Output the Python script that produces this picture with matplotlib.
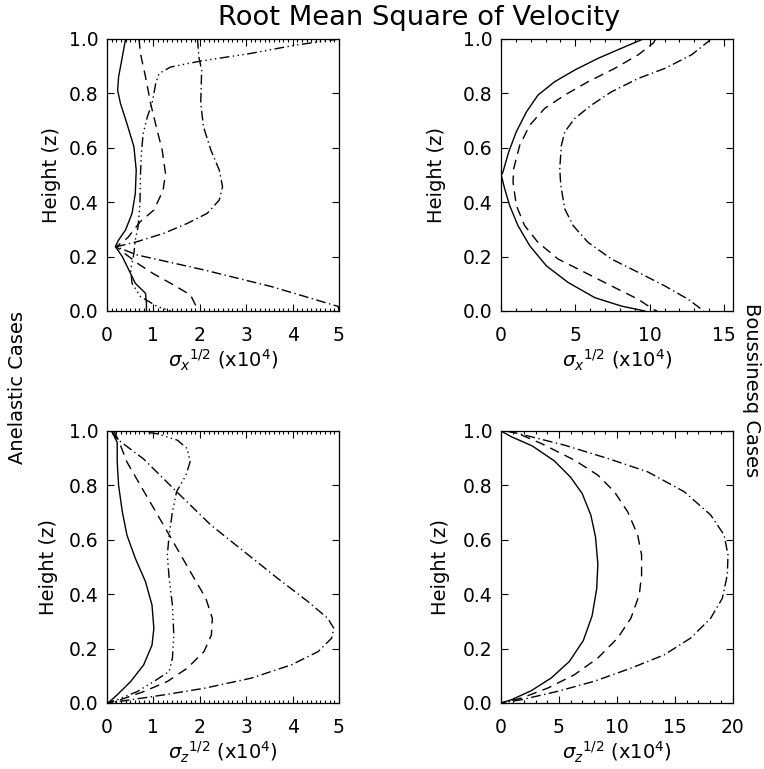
import matplotlib
matplotlib.use("Agg")
import matplotlib.pyplot as plt
from matplotlib.ticker import MultipleLocator

plt.rcParams['font.family'] = ['DejaVu Sans']
plt.rcParams['mathtext.fontset'] = 'dejavusans'
plt.rcParams['font.size'] = 14

# ---- anelastic, sigma_x ----
ax_solid_s = [0.40, 0.33, 0.25, 0.23, 0.29, 0.43, 0.58, 0.63, 0.61, 0.54, 0.40, 0.25, 0.18, 0.33, 0.47, 0.61, 0.83, 0.85, 0.85]
ax_solid_z = [1.0, 0.934, 0.861, 0.811, 0.763, 0.689, 0.604, 0.518, 0.432, 0.359, 0.298, 0.261, 0.237, 0.200, 0.151, 0.102, 0.065, 0.029, 0.0]
ax_dash_s = [0.69, 0.72, 0.83, 0.94, 1.08, 1.19, 1.26, 1.21, 1.01, 0.72, 0.45, 0.20, 0.65, 1.01, 1.37, 1.80, 1.97]
ax_dash_z = [1.0, 0.947, 0.861, 0.763, 0.665, 0.591, 0.506, 0.444, 0.371, 0.329, 0.270, 0.236, 0.176, 0.136, 0.102, 0.059, 0.0]
ax_dd_s = [1.95, 1.98, 2.04, 2.02, 2.08, 2.24, 2.42, 2.49, 2.42, 2.16, 1.73, 1.23, 0.65, 0.20, 0.65, 2.09, 3.54, 4.98, 5.0]
ax_dd_z = [1.0, 0.934, 0.885, 0.763, 0.677, 0.591, 0.518, 0.457, 0.408, 0.359, 0.322, 0.286, 0.255, 0.236, 0.206, 0.151, 0.090, 0.017, 0.0]
ax_d3_s = [5.0, 4.04, 3.10, 2.02, 1.37, 1.12, 1.05, 0.97, 0.87, 0.78, 0.74, 0.72, 0.71, 0.67, 0.61, 0.58, 0.51, 0.54, 0.72, 1.08, 1.37]
ax_d3_z = [1.0, 0.977, 0.947, 0.919, 0.897, 0.873, 0.836, 0.763, 0.714, 0.653, 0.579, 0.494, 0.396, 0.310, 0.261, 0.212, 0.151, 0.102, 0.053, 0.017, 0.0]

# ---- boussinesq, sigma_x ----
bx_solid_s = [9.56, 8.1, 6.53, 4.96, 3.61, 2.49, 1.71, 1.03, 0.52, 0.13, 0.02, 0.25, 0.58, 1.14, 1.93, 3.05, 4.51, 6.31, 8.1, 9.67]
bx_solid_z = [1.0, 0.966, 0.929, 0.886, 0.843, 0.794, 0.732, 0.659, 0.585, 0.511, 0.499, 0.449, 0.388, 0.314, 0.240, 0.166, 0.105, 0.049, 0.018, 0.0]
bx_dash_s = [10.4, 10.24, 9.23, 7.65, 5.86, 4.29, 2.94, 1.93, 1.26, 0.85, 0.81, 1.03, 1.59, 2.49, 3.84, 5.63, 7.43, 9.23, 10.24, 10.5]
bx_dash_z = [1.0, 0.985, 0.942, 0.892, 0.843, 0.794, 0.745, 0.683, 0.609, 0.523, 0.474, 0.388, 0.314, 0.252, 0.191, 0.142, 0.092, 0.043, 0.006, 0.0]
bx_dd_s = [14.1, 13.94, 12.82, 11.02, 9.23, 7.43, 6.08, 4.96, 4.29, 4.06, 3.95, 4.02, 4.29, 4.85, 5.86, 7.43, 9.23, 11.02, 12.59, 13.49, 13.6]
bx_dd_z = [1.0, 0.991, 0.942, 0.892, 0.855, 0.806, 0.757, 0.708, 0.659, 0.609, 0.523, 0.462, 0.375, 0.314, 0.252, 0.191, 0.142, 0.092, 0.043, 0.006, 0.0]

# ---- anelastic, sigma_z ----
az_solid_s = [0.10, 0.22, 0.22, 0.25, 0.33, 0.43, 0.61, 0.83, 0.97, 1.01, 0.97, 0.79, 0.51, 0.22, 0.04, 0.0]
az_solid_z = [1.0, 0.958, 0.886, 0.800, 0.703, 0.617, 0.532, 0.446, 0.360, 0.274, 0.213, 0.140, 0.079, 0.030, 0.003, 0.0]
az_dash_s = [0.15, 0.25, 0.43, 0.72, 1.01, 1.30, 1.59, 1.88, 2.13, 2.27, 2.25, 2.09, 1.73, 1.30, 0.79, 0.29, 0.0]
az_dash_z = [1.0, 0.965, 0.886, 0.800, 0.715, 0.630, 0.544, 0.458, 0.385, 0.311, 0.250, 0.189, 0.128, 0.079, 0.042, 0.012, 0.0]
az_dd_s = [0.10, 0.22, 0.79, 1.50, 2.24, 2.96, 3.68, 4.33, 4.76, 4.89, 4.84, 4.55, 3.97, 3.10, 2.09, 1.23, 0.36, 0.0]
az_dd_z = [1.0, 0.970, 0.897, 0.777, 0.654, 0.556, 0.458, 0.373, 0.311, 0.274, 0.238, 0.189, 0.140, 0.091, 0.054, 0.030, 0.008, 0.0]
az_d3_s = [0.30, 0.65, 1.08, 1.52, 1.73, 1.79, 1.70, 1.50, 1.41, 1.34, 1.30, 1.34, 1.41, 1.44, 1.41, 1.34, 1.01, 0.65, 0.22, 0.0]
az_d3_z = [1.0, 1.0, 0.990, 0.966, 0.935, 0.886, 0.837, 0.777, 0.703, 0.617, 0.544, 0.458, 0.360, 0.250, 0.165, 0.116, 0.079, 0.042, 0.012, 0.0]

# ---- boussinesq, sigma_z ----
bz_solid_s = [0.0, 0.89, 2.7, 4.6, 6.0, 7.0, 7.75, 8.15, 8.35, 8.25, 7.85, 7.1, 5.9, 4.33, 2.6, 0.9, 0.0]
bz_solid_z = [1.0, 0.979, 0.945, 0.890, 0.830, 0.770, 0.690, 0.610, 0.510, 0.420, 0.320, 0.230, 0.153, 0.092, 0.045, 0.012, 0.0]
bz_dash_s = [0.4, 1.46, 3.47, 6.33, 8.34, 9.77, 10.92, 11.78, 12.12, 12.12, 11.92, 11.2, 10.06, 8.34, 6.33, 4.04, 1.75, 0.0]
bz_dash_z = [1.0, 0.991, 0.954, 0.893, 0.838, 0.777, 0.703, 0.618, 0.544, 0.471, 0.398, 0.312, 0.239, 0.165, 0.104, 0.055, 0.018, 0.0]
bz_dd_s = [0.6, 2.03, 5.47, 9.2, 12.64, 15.79, 18.08, 19.23, 19.57, 19.51, 19.08, 18.08, 16.36, 14.07, 11.2, 8.05, 4.9, 1.75, 0.0]
bz_dd_z = [1.0, 0.985, 0.948, 0.899, 0.850, 0.777, 0.691, 0.618, 0.544, 0.471, 0.385, 0.312, 0.239, 0.177, 0.128, 0.080, 0.043, 0.012, 0.0]

# IDL-like line styles
SOLID = '-'
DASH = (0, (7, 4.5))
DASHDOT = (0, (7, 2.5, 1, 2.5))
DASH3DOT = (0, (7, 2.5, 1, 2.5, 1, 2.5, 1, 2.5))

fig = plt.figure(figsize=(7.64, 7.69), dpi=100)
W, H = 764.0, 769.0


def make_axes(left, top, xmax, major, minor, xlabel, xlab_y, ylab_x):
    ax = fig.add_axes([left / W, 1 - (top + 272) / H, 232 / W, 272 / H])
    ax.set_xlim(0, xmax)
    ax.set_ylim(0, 1)
    ax.xaxis.set_major_locator(MultipleLocator(major))
    ax.xaxis.set_minor_locator(MultipleLocator(minor))
    ax.yaxis.set_major_locator(MultipleLocator(0.2))
    ax.yaxis.set_major_formatter(plt.FormatStrFormatter('%.1f'))
    ax.tick_params(which='both', direction='in', top=True, right=True, width=0.8)
    ax.tick_params(which='major', length=5)
    ax.tick_params(which='minor', length=2.5)
    ax.tick_params(axis='x', which='major', pad=11, labelsize=13.5)
    ax.tick_params(axis='y', which='major', pad=6, labelsize=13.5)
    for s in ax.spines.values():
        s.set_linewidth(0.9)
    ax.set_xlabel(xlabel, fontsize=14)
    ax.xaxis.set_label_coords(0.5, xlab_y)
    ax.set_ylabel('Height (z)', fontsize=14)
    ax.yaxis.set_label_coords(ylab_x, 0.5)
    return ax


lab_x = r'$\sigma_{x}{}^{1/2}$ (x10$^4$)'
lab_z = r'$\sigma_{z}{}^{1/2}$ (x10$^4$)'

ax1 = make_axes(107, 39, 5, 1, 0.1, lab_x, -0.135, -0.198)
ax2 = make_axes(501, 39, 15.6, 5, 1, lab_x, -0.135, -0.237)
ax3 = make_axes(107, 431, 5, 1, 0.1, lab_z, -0.135, -0.212)
ax4 = make_axes(501, 431, 20, 5, 1, lab_z, -0.135, -0.221)

kw = dict(color='black', lw=1.0)
ax1.plot(ax_solid_s, ax_solid_z, linestyle=SOLID, **kw)
ax1.plot(ax_dash_s, ax_dash_z, linestyle=DASH, **kw)
ax1.plot(ax_dd_s, ax_dd_z, linestyle=DASHDOT, **kw)
ax1.plot(ax_d3_s, ax_d3_z, linestyle=DASH3DOT, **kw)

ax2.plot(bx_solid_s, bx_solid_z, linestyle=SOLID, **kw)
ax2.plot(bx_dash_s, bx_dash_z, linestyle=DASH, **kw)
ax2.plot(bx_dd_s, bx_dd_z, linestyle=DASHDOT, **kw)

ax3.plot(az_solid_s, az_solid_z, linestyle=SOLID, **kw)
ax3.plot(az_dash_s, az_dash_z, linestyle=DASH, **kw)
ax3.plot(az_dd_s, az_dd_z, linestyle=DASHDOT, **kw)
ax3.plot(az_d3_s, az_d3_z, linestyle=DASH3DOT, **kw)

ax4.plot(bz_solid_s, bz_solid_z, linestyle=SOLID, **kw)
ax4.plot(bz_dash_s, bz_dash_z, linestyle=DASH, **kw)
ax4.plot(bz_dd_s, bz_dd_z, linestyle=DASHDOT, **kw)

fig.text(419 / W, 1 - 18 / H, 'Root Mean Square of Velocity', ha='center', va='center', fontsize=19.7)
fig.text(18 / W, 1 - 388 / H, 'Anelastic Cases', rotation=90, ha='center', va='center', fontsize=14)
fig.text(751 / W, 1 - 390 / H, 'Boussinesq Cases', rotation=-90, ha='center', va='center', fontsize=14)

fig.savefig('out.png', dpi=100, facecolor='white')
